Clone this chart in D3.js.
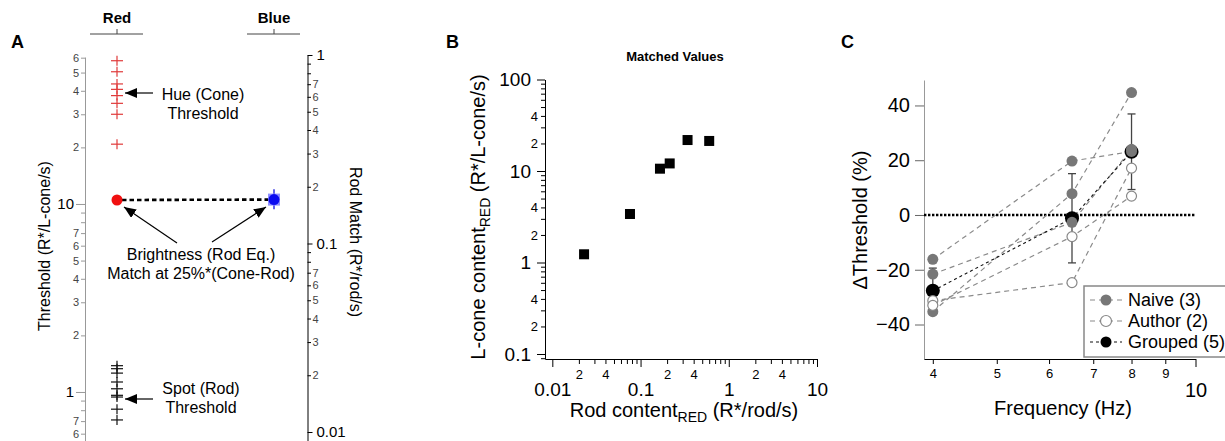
<!DOCTYPE html>
<html>
<head>
<meta charset="utf-8">
<script src="https://cdn.jsdelivr.net/npm/d3@7"></script>
<style>
    body { margin: 0; background: #fff; }
    svg { display: block; }
</style>
</head>
<body>
<div class="canvas"></div>
<script>
// ---- data: panel A (thresholds) ----
const columns = ["Red", "Blue"];
const hueThresholds = [57.8, 50.5, 43.5, 40.7, 37.7, 34.3, 30.0, 20.8];
const spotThresholds = [1.38, 1.33, 1.26, 1.13, 1.04, 0.96, 0.94, 0.81, 0.71];
const redMatch = 10.5;          // left axis (R*/L-cone/s)
const blueMatch = 0.171;        // right axis (R*/rod/s)
const blueMatchRange = [0.152, 0.194];
const thrMajor = [1, 10];
const thrMinor = [0.6, 0.7, 0.8, 0.9, 2, 3, 4, 5, 6, 7, 8, 9, 20, 30, 40, 50, 60];
const rodMajor = [0.01, 0.1, 1];
const rodMinor = [0.02, 0.03, 0.04, 0.05, 0.06, 0.07, 0.08, 0.09, 0.2, 0.3, 0.4, 0.5, 0.6, 0.7, 0.8, 0.9];

// ---- data: panel B (matched values) ----
const rodContent = [0.0229, 0.0759, 0.166, 0.214, 0.341, 0.600];
const coneContent = [1.23, 3.39, 10.6, 12.1, 21.8, 21.3];
const bxMajor = [0.01, 0.1, 1, 10];
const byMajor = [0.1, 1, 10, 100];
const bMinor = [0.02, 0.03, 0.04, 0.05, 0.06, 0.07, 0.08, 0.09, 0.2, 0.3, 0.4, 0.5, 0.6, 0.7, 0.8, 0.9,
    2, 3, 4, 5, 6, 7, 8, 9, 20, 30, 40, 50, 60, 70, 80, 90];

// ---- data: panel C (frequency) ----
const freqs = [4, 6.5, 8];
const naive = [[-16.2, 19.7, 23.2], [-21.6, -2.7, 24.0], [-35.3, 7.8, 44.7]];
const author = [[-31.3, -24.7, 17.1], [-33.0, -7.9, 6.9]];
const grouped = [-27.7, -1.2, 23.1];
const groupedErr = [8.3, 16.3, 13.8];
const cxTicks = [4, 5, 6, 7, 8, 9];
const cyTicks = [-40, -20, 0, 20, 40];
const legendItems = ["Naive (3)", "Author (2)", "Grouped (5)"];

const FONT = "'Liberation Sans', Arial, sans-serif";
const lead = (v) => Math.round(v / Math.pow(10, Math.floor(Math.log10(v) + 1e-9)));
const within = (scale) => (v) => v >= scale.domain()[0] && v <= scale.domain()[1];

const svg = d3
    .select(".canvas")
    .append("svg")
    .attr("width", 1225)
    .attr("height", 441)
    .attr("font-family", FONT);

// arrow head marker
svg.append("defs")
    .append("marker")
    .attr("id", "arrow")
    .attr("markerUnits", "userSpaceOnUse")
    .attr("viewBox", "0 0 12 10")
    .attr("refX", 12)
    .attr("refY", 5)
    .attr("markerWidth", 12)
    .attr("markerHeight", 10)
    .attr("orient", "auto")
    .append("path")
    .attr("d", "M0,0L12,5L0,10Z")
    .attr("fill", "#000");

// panel letters
const letters = [["A", 11], ["B", 446], ["C", 841]];
svg.selectAll(".letter")
    .data(letters)
    .enter()
    .append("text")
    .attr("x", (d) => d[1])
    .attr("y", 48)
    .attr("font-size", 18)
    .attr("font-weight", "bold")
    .text((d) => d[0]);

// ======================= PANEL A =======================
const yThr = d3.scaleLog().domain([0.5486, 60.5]).range([441, 57]);
const yRod = d3.scaleLog().domain([0.00896, 1]).range([441, 55]);
const xA = d3.scalePoint().domain(columns).range([117, 274]);

// column headers with tiny axes
const head = svg.selectAll(".head").data(columns).enter().append("g");
head.append("line")
    .attr("x1", (d) => xA(d) - 27).attr("x2", (d) => xA(d) + 26)
    .attr("y1", 34).attr("y2", 34)
    .attr("stroke", "#444");
head.append("line")
    .attr("x1", (d) => xA(d)).attr("x2", (d) => xA(d))
    .attr("y1", 34).attr("y2", 29)
    .attr("stroke", "#444");
head.append("text")
    .attr("x", (d) => xA(d))
    .attr("y", 23)
    .attr("text-anchor", "middle")
    .attr("font-size", 15)
    .attr("font-weight", "bold")
    .text((d) => d);

// left axis (gray)
const gL = svg.append("g").attr("transform", "translate(85,0)");
gL.call(d3.axisLeft(yThr).tickValues(thrMinor.filter(within(yThr))).tickSize(4).tickSizeOuter(0).tickPadding(2)
    .tickFormat((v) => (lead(v) >= 8 ? "" : lead(v))));
gL.attr("font-family", FONT).attr("font-size", 11).attr("color", "#999");
gL.selectAll("text").attr("fill", "#444");
const gL2 = svg.append("g").attr("transform", "translate(85,0)");
gL2.call(d3.axisLeft(yThr).tickValues(thrMajor).tickSize(9).tickPadding(2).tickFormat(d3.format("d")));
gL2.select(".domain").remove();
gL2.attr("font-family", FONT).attr("font-size", 15).attr("color", "#999");
gL2.selectAll("text").attr("fill", "#000");

// right axis (black)
const gR = svg.append("g").attr("transform", "translate(307.5,0)");
gR.call(d3.axisRight(yRod).tickValues(rodMinor.filter(within(yRod))).tickSize(3.5).tickSizeOuter(0).tickPadding(1.5)
    .tickFormat((v) => (lead(v) >= 8 ? "" : lead(v))));
gR.attr("font-family", FONT).attr("font-size", 11).attr("color", "#000");
gR.selectAll("text").attr("fill", "#444");
const gR2 = svg.append("g").attr("transform", "translate(307.5,0)");
gR2.call(d3.axisRight(yRod).tickValues(rodMajor).tickSize(5).tickPadding(4).tickFormat((v) => String(v)));
gR2.select(".domain").remove();
gR2.attr("font-family", FONT).attr("font-size", 15).attr("color", "#000");

// axis titles
svg.append("text")
    .attr("transform", "translate(50,246) rotate(-90)")
    .attr("text-anchor", "middle")
    .attr("font-size", 16)
    .text("Threshold (R*/L-cone/s)");
svg.append("text")
    .attr("transform", "translate(350,242) rotate(90)")
    .attr("text-anchor", "middle")
    .attr("font-size", 16)
    .text("Rod Match (R*/rod/s)");

// crosses
const cross = (g, vals, color) => {
    const c = g.selectAll(null).data(vals).enter().append("g")
        .attr("transform", (d) => `translate(${xA("Red")},${yThr(d)})`)
        .attr("stroke", color)
        .attr("stroke-width", 1.2);
    c.append("line").attr("x1", -6).attr("x2", 6);
    c.append("line").attr("y1", -5).attr("y2", 5);
};
cross(svg, hueThresholds, "#e03a3a");
cross(svg, spotThresholds, "#111");

// brightness match dotted line
svg.append("line")
    .attr("x1", xA("Red") + 5).attr("x2", xA("Blue") - 5)
    .attr("y1", yThr(redMatch)).attr("y2", yRod(blueMatch))
    .attr("stroke", "#000")
    .attr("stroke-width", 2.6)
    .attr("stroke-dasharray", "4.5,3");

svg.append("circle")
    .attr("cx", xA("Red")).attr("cy", yThr(redMatch)).attr("r", 5.5)
    .attr("fill", "#f01010");

svg.append("line")
    .attr("x1", xA("Blue")).attr("x2", xA("Blue"))
    .attr("y1", yRod(blueMatchRange[0])).attr("y2", yRod(blueMatchRange[1]))
    .attr("stroke", "#1010e0").attr("stroke-width", 1.3);
svg.append("rect")
    .attr("x", xA("Blue") - 6).attr("y", yRod(blueMatch) - 6)
    .attr("width", 12).attr("height", 12)
    .attr("fill", "#9090ff");
svg.append("circle")
    .attr("cx", xA("Blue")).attr("cy", yRod(blueMatch)).attr("r", 5.5)
    .attr("fill", "#0a0af0");

// annotations
const arrow = (x1, y1, x2, y2) =>
    svg.append("line")
        .attr("x1", x1).attr("y1", y1).attr("x2", x2).attr("y2", y2)
        .attr("stroke", "#000").attr("stroke-width", 1.2)
        .attr("marker-end", "url(#arrow)");
arrow(153, 93, 125, 93);
arrow(153, 399, 125, 399);
arrow(177, 243, 124, 207);
arrow(212, 242, 266, 207);

const note = (x, y, lines) =>
    svg.append("text")
        .attr("text-anchor", "middle")
        .attr("font-size", 16)
        .selectAll("tspan")
        .data(lines)
        .enter()
        .append("tspan")
        .attr("x", x)
        .attr("y", (d, i) => y + i * 18.5)
        .text((d) => d);
note(203, 100, ["Hue (Cone)", "Threshold"]);
note(201, 394, ["Spot (Rod)", "Threshold"]);
note(201, 260, ["Brightness (Rod Eq.)", "Match at 25%*(Cone-Rod)"]);

// ======================= PANEL B =======================
const xB = d3.scaleLog().domain([0.00826, 10]).range([545, 817]);
const yB = d3.scaleLog().domain([0.0882, 100]).range([359, 79.5]);
const labelB = (v) => ([2, 4].includes(lead(v)) ? lead(v) : "");

svg.append("text")
    .attr("x", 675).attr("y", 61)
    .attr("text-anchor", "middle")
    .attr("font-size", 13)
    .attr("font-weight", "bold")
    .text("Matched Values");

const gBy = svg.append("g").attr("transform", "translate(545,0)");
gBy.call(d3.axisLeft(yB).tickValues(bMinor.filter(within(yB))).tickSize(4).tickSizeOuter(0).tickPadding(3).tickFormat(labelB));
gBy.attr("font-family", FONT).attr("font-size", 13).attr("color", "#000");
const gBy2 = svg.append("g").attr("transform", "translate(545,0)");
gBy2.call(d3.axisLeft(yB).tickValues(byMajor).tickSize(8).tickPadding(6).tickFormat((v) => String(v)));
gBy2.select(".domain").remove();
gBy2.attr("font-family", FONT).attr("font-size", 19).attr("color", "#000");

const gBx = svg.append("g").attr("transform", "translate(0,359)");
gBx.call(d3.axisBottom(xB).tickValues(bMinor.filter(within(xB))).tickSize(5).tickSizeOuter(0).tickPadding(6).tickFormat(labelB));
gBx.attr("font-family", FONT).attr("font-size", 13).attr("color", "#000");
const gBx2 = svg.append("g").attr("transform", "translate(0,359)");
gBx2.call(d3.axisBottom(xB).tickValues(bxMajor).tickSize(8).tickPadding(16).tickFormat((v) => String(v)));
gBx2.select(".domain").remove();
gBx2.attr("font-family", FONT).attr("font-size", 19).attr("color", "#000");

const xTitleB = svg.append("text")
    .attr("x", 684).attr("y", 417)
    .attr("text-anchor", "middle")
    .attr("font-size", 20);
xTitleB.append("tspan").text("Rod content");
xTitleB.append("tspan").attr("font-size", 14).attr("dy", 5).text("RED");
xTitleB.append("tspan").attr("dy", -5).text(" (R*/rod/s)");

const yTitleB = svg.append("text")
    .attr("transform", "translate(485,217) rotate(-90)")
    .attr("text-anchor", "middle")
    .attr("font-size", 20);
yTitleB.append("tspan").text("L-cone content");
yTitleB.append("tspan").attr("font-size", 14).attr("dy", 5).text("RED");
yTitleB.append("tspan").attr("dy", -5).text(" (R*/L-cone/s)");

svg.append("g")
    .selectAll("rect")
    .data(rodContent)
    .enter()
    .append("rect")
    .attr("x", (d) => xB(d) - 5)
    .attr("y", (d, i) => yB(coneContent[i]) - 5)
    .attr("width", 10)
    .attr("height", 10)
    .attr("fill", "#000");

// ======================= PANEL C =======================
const xC = d3.scaleLog().domain([3.879, 10]).range([924, 1195.5]);
const yC = d3.scaleLinear().domain([-52.6, 49.3]).range([359, 80]);

const gCy = svg.append("g").attr("transform", "translate(924,0)");
gCy.call(d3.axisLeft(yC).tickValues(cyTicks).tickSize(9).tickSizeOuter(0).tickPadding(5).tickFormat(d3.format("d")));
gCy.attr("font-family", FONT).attr("font-size", 20).attr("color", "#999");
gCy.selectAll("text").attr("fill", "#000");
gCy.selectAll(".tick line").attr("stroke", "#666");

const gCx = svg.append("g").attr("transform", "translate(0,359)");
gCx.call(d3.axisBottom(xC).tickValues(cxTicks).tickSize(5).tickSizeOuter(0).tickPadding(5).tickFormat(d3.format("d")));
gCx.attr("font-family", FONT).attr("font-size", 13).attr("color", "#000");
const gCx2 = svg.append("g").attr("transform", "translate(0,359)");
gCx2.call(d3.axisBottom(xC).tickValues([10]).tickSize(8).tickPadding(16).tickFormat(d3.format("d")));
gCx2.select(".domain").remove();
gCx2.attr("font-family", FONT).attr("font-size", 20).attr("color", "#000");

svg.append("text")
    .attr("x", 1063).attr("y", 415)
    .attr("text-anchor", "middle")
    .attr("font-size", 20)
    .text("Frequency (Hz)");
svg.append("text")
    .attr("transform", "translate(867,220) rotate(-90)")
    .attr("text-anchor", "middle")
    .attr("font-size", 20)
    .text("\u0394Threshold (%)");

// zero line
svg.append("line")
    .attr("x1", xC.range()[0]).attr("x2", xC.range()[1])
    .attr("y1", yC(0)).attr("y2", yC(0))
    .attr("stroke", "#000")
    .attr("stroke-width", 2.4)
    .attr("stroke-dasharray", "2.4,1.6");

const lineC = d3.line().x((d, i) => xC(freqs[i])).y((d) => yC(d));

svg.append("g")
    .selectAll("path")
    .data(naive.concat(author))
    .enter()
    .append("path")
    .attr("d", lineC)
    .attr("fill", "none")
    .attr("stroke", "#8a8a8a")
    .attr("stroke-width", 1.2)
    .attr("stroke-dasharray", "5,4");
svg.append("path")
    .attr("d", lineC(grouped))
    .attr("fill", "none")
    .attr("stroke", "#111")
    .attr("stroke-width", 1.1)
    .attr("stroke-dasharray", "3,3");

// error bars
const eb = svg.append("g").attr("stroke", "#444").attr("stroke-width", 1.3);
grouped.forEach((m, i) => {
    const x = xC(freqs[i]);
    const y1 = yC(m - groupedErr[i]);
    const y2 = yC(m + groupedErr[i]);
    eb.append("line").attr("x1", x).attr("x2", x).attr("y1", y1).attr("y2", y2);
    eb.append("line").attr("x1", x - 4).attr("x2", x + 4).attr("y1", y1).attr("y2", y1);
    eb.append("line").attr("x1", x - 4).attr("x2", x + 4).attr("y1", y2).attr("y2", y2);
});

// points
svg.append("g")
    .selectAll("circle")
    .data(grouped)
    .enter()
    .append("circle")
    .attr("cx", (d, i) => xC(freqs[i]))
    .attr("cy", (d) => yC(d))
    .attr("r", 7)
    .attr("fill", "#000");
naive.forEach((s) => {
    svg.append("g")
        .selectAll("circle")
        .data(s)
        .enter()
        .append("circle")
        .attr("cx", (d, i) => xC(freqs[i]))
        .attr("cy", (d) => yC(d))
        .attr("r", 5.5)
        .attr("fill", "#777");
});
author.forEach((s) => {
    svg.append("g")
        .selectAll("circle")
        .data(s)
        .enter()
        .append("circle")
        .attr("cx", (d, i) => xC(freqs[i]))
        .attr("cy", (d) => yC(d))
        .attr("r", 5)
        .attr("fill", "#fff")
        .attr("stroke", "#888")
        .attr("stroke-width", 1.2);
});

// legend
const legend = svg.append("g").attr("transform", "translate(1084,286)");
legend.append("rect")
    .attr("width", 145).attr("height", 71)
    .attr("fill", "#fff")
    .attr("stroke", "#888")
    .attr("stroke-width", 1.5);
const item = legend.selectAll(".item")
    .data(legendItems)
    .enter()
    .append("g")
    .attr("transform", (d, i) => `translate(0,${14 + i * 21})`);
item.append("line")
    .attr("x1", 6).attr("x2", 38)
    .attr("stroke", (d, i) => (i === 2 ? "#111" : "#8a8a8a"))
    .attr("stroke-width", 1.2)
    .attr("stroke-dasharray", (d, i) => (i === 2 ? "3,3" : "5,4"));
item.append("circle")
    .attr("cx", 22)
    .attr("r", 5.5)
    .attr("fill", (d, i) => ["#777", "#fff", "#000"][i])
    .attr("stroke", (d, i) => (i === 1 ? "#888" : "none"))
    .attr("stroke-width", 1.2);
item.append("text")
    .attr("x", 44)
    .attr("y", 6)
    .attr("font-size", 18)
    .text((d) => d);
</script>
</body>
</html>
